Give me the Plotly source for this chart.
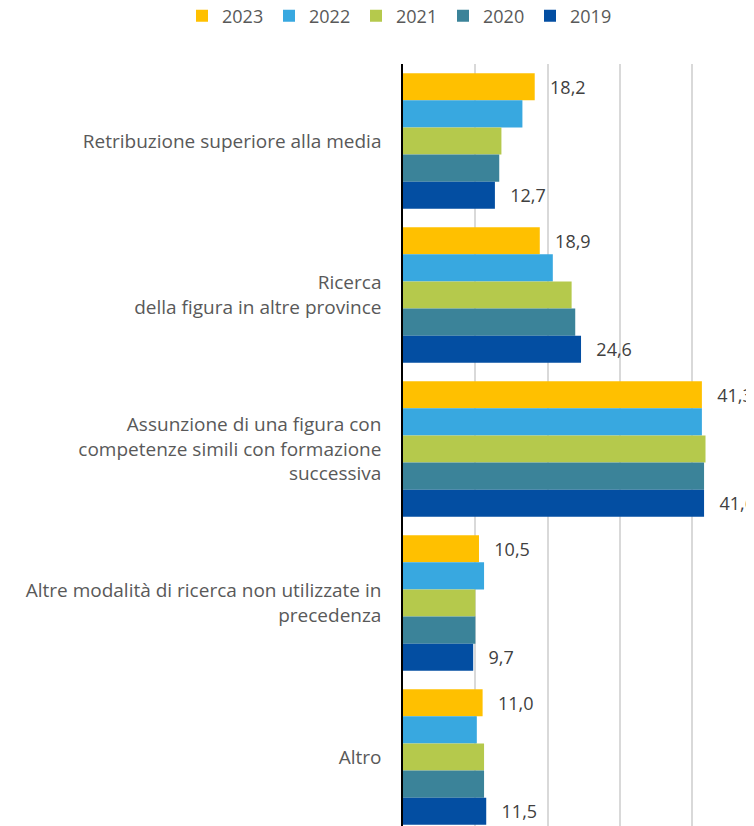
import plotly.graph_objects as go

categories = [
    "Retribuzione superiore alla media",
    "Ricerca<br>della figura in altre province",
    "Assunzione di una figura con<br>competenze simili con formazione<br>successiva",
    "Altre modalità di ricerca non utilizzate in<br>precedenza",
    "Altro",
]
years = ["2023", "2022", "2021", "2020", "2019"]
values_2023 = [18.2, 18.9, 41.3, 10.5, 11.0]
values_2022 = [16.5, 20.7, 41.3, 11.2, 10.2]
values_2021 = [13.6, 23.3, 41.8, 10.0, 11.2]
values_2020 = [13.3, 23.8, 41.6, 10.0, 11.2]
values_2019 = [12.7, 24.6, 41.6, 9.7, 11.5]
series = [values_2023, values_2022, values_2021, values_2020, values_2019]
colors = ["#FFC000", "#38A8E0", "#B5C94C", "#3B8399", "#034EA2"]
labelled = {"2023", "2019"}

FONT = "Open Sans"
W, H = 746, 818
ML, MT = 395, 56
PW, PH = W - ML, H - MT
fig = go.Figure()
for name, vals, col in zip(years, series, colors):
    fig.add_trace(go.Bar(
        name=name, x=vals, y=categories, orientation="h",
        marker=dict(color=col, line=dict(width=0)),
        texttemplate="\u00a0\u00a0\u2009%{x:.1f}" if name in labelled else None,
        textposition="outside" if name in labelled else "none",
        textfont=dict(family=FONT, size=18, color="#404040"),
        cliponaxis=False,
    ))

fig.update_layout(
    width=W, height=H,
    barmode="group", bargap=0.12, bargroupgap=0,
    separators=",.",
    plot_bgcolor="white", paper_bgcolor="white",
    margin=dict(l=ML, r=0, t=MT, b=0, autoexpand=False),
    font=dict(family=FONT, color="#595959"),
    legend=dict(orientation="h", xref="paper", yref="paper",
                x=(174 - ML) / PW, xanchor="left", y=1 + (MT - 8) / PH, yanchor="middle",
                entrywidth=42, itemwidth=30,
                font=dict(family=FONT, size=18, color="#595959"), traceorder="normal"),
)
fig.update_xaxes(range=[0, 48.5], showticklabels=False, showgrid=True,
                 gridcolor="#D9D9D9", gridwidth=1.5, dtick=10, zeroline=False, ticks="")
fig.update_yaxes(range=[4.448, -0.5], showline=True, linecolor="black", linewidth=1.5,
                 layer="above traces", ticks="", ticklabelstandoff=16,
                 tickfont=dict(family=FONT, size=19, color="#595959"), automargin=False)

fig.write_html("out.html")
